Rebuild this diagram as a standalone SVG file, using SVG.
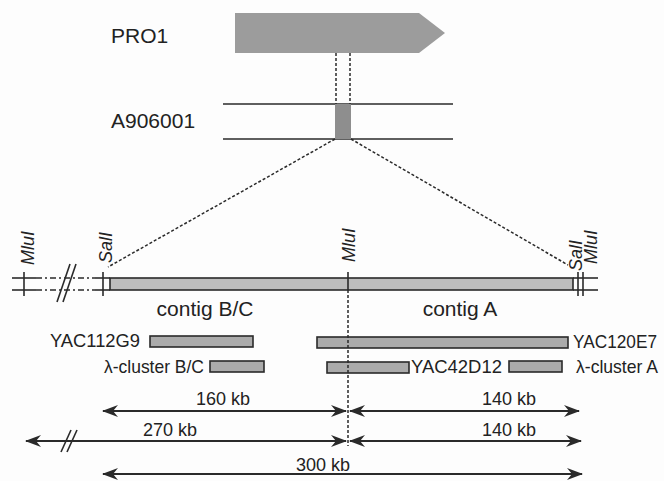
<svg xmlns="http://www.w3.org/2000/svg" width="664" height="481" viewBox="0 0 664 481">
<defs>
<style>
text{font-family:"Liberation Sans",Arial,sans-serif;fill:#222}
.lbl{font-size:21px}
.sm{font-size:19px}
.kb{font-size:18px}
.re{font-size:18px;font-style:italic}
.ln{stroke:#2a2a2a;stroke-width:1.6;fill:none}
.dash{stroke:#2a2a2a;stroke-width:1.5;stroke-dasharray:3 2;fill:none}
.clone{fill:#ababab;stroke:#2a2a2a;stroke-width:1.6}
.arr{stroke:#2a2a2a;stroke-width:1.8;fill:none;marker-end:url(#ah);marker-start:url(#ah)}
</style>
<marker id="ah" viewBox="0 0 16 12" refX="15" refY="6" markerWidth="16" markerHeight="12" markerUnits="userSpaceOnUse" orient="auto-start-reverse">
<path d="M16,6 L0,0 L5,6 L0,12 Z" fill="#2a2a2a"/>
</marker>
</defs>
<rect width="664" height="481" fill="#fdfdfd"/>

<g id="pro1">
<path d="M235,13 H419 L445,33 L419,53 H235 Z" fill="#9c9c9c"/>
<text class="lbl" x="111" y="43">PRO1</text>
</g>

<g id="a906001">
<line class="ln" x1="223" y1="104" x2="453" y2="104"/>
<line class="ln" x1="223" y1="139" x2="453" y2="139"/>
<rect x="335" y="104" width="16" height="35" fill="#8e8e8e"/>
<text class="lbl" x="111" y="128">A906001</text>
</g>

<g id="chromosome">
<line class="ln" x1="12" y1="278" x2="36" y2="278"/>
<line class="ln" x1="12" y1="290" x2="36" y2="290"/>
<line class="ln" x1="36" y1="278" x2="95" y2="278" stroke-dasharray="6 3 2 3"/>
<line class="ln" x1="36" y1="290" x2="95" y2="290" stroke-dasharray="6 3 2 3"/>
<line class="ln" x1="95" y1="278" x2="110" y2="278"/>
<line class="ln" x1="95" y1="290" x2="110" y2="290"/>
<line class="ln" x1="57" y1="302" x2="70" y2="264"/>
<line class="ln" x1="63" y1="302" x2="76" y2="264"/>
<rect x="110" y="278" width="463" height="12" fill="#bdbdbd" stroke="#2a2a2a" stroke-width="1.6"/>
<line class="ln" x1="573" y1="278" x2="598" y2="278"/>
<line class="ln" x1="573" y1="290" x2="598" y2="290"/>
<line class="ln" x1="24" y1="272" x2="24" y2="296"/>
<line class="ln" x1="103" y1="272" x2="103" y2="296"/>
<line class="ln" x1="348" y1="272" x2="348" y2="290"/>
<line class="ln" x1="578" y1="272" x2="578" y2="296"/>
<line class="ln" x1="583" y1="272" x2="583" y2="296"/>
<text class="re" transform="translate(34,265) rotate(-90)">MluI</text>
<text class="re" transform="translate(112,263) rotate(-90)">SalI</text>
<text class="re" transform="translate(355,262) rotate(-90)">MluI</text>
<text class="re" transform="translate(582,271) rotate(-90)">SalI</text>
<text class="re" transform="translate(597,264) rotate(-90)">MluI</text>
<text class="lbl" x="205" y="316" text-anchor="middle">contig B/C</text>
<text class="lbl" x="460" y="316" text-anchor="middle">contig A</text>
</g>

<g id="yac112g9">
<rect class="clone" x="150" y="336" width="103" height="11"/>
<text class="sm" x="50" y="347" textLength="90" lengthAdjust="spacingAndGlyphs">YAC112G9</text>
</g>
<g id="yac120e7">
<rect class="clone" x="317" y="337" width="251" height="11"/>
<text x="573" y="348" font-size="18" textLength="84" lengthAdjust="spacingAndGlyphs">YAC120E7</text>
</g>
<g id="lambda-bc">
<rect class="clone" x="210" y="361" width="54" height="11"/>
<text class="sm" x="104" y="373" textLength="100" lengthAdjust="spacingAndGlyphs">λ-cluster B/C</text>
</g>
<g id="yac42d12">
<rect class="clone" x="327" y="362" width="82" height="11"/>
<text class="sm" x="411" y="373" textLength="91" lengthAdjust="spacingAndGlyphs">YAC42D12</text>
</g>
<g id="lambda-a">
<rect class="clone" x="509" y="361" width="53" height="11" fill="#8f8f8f"/>
<text class="sm" x="576" y="373" textLength="82" lengthAdjust="spacingAndGlyphs">λ-cluster A</text>
</g>

<g id="connectors">
<line class="dash" x1="336" y1="53" x2="336" y2="104"/>
<line class="dash" x1="350" y1="53" x2="350" y2="104"/>
<line class="dash" x1="335" y1="139" x2="108" y2="267"/>
<line class="dash" x1="351" y1="139" x2="568" y2="265"/>
<line class="dash" x1="348" y1="290" x2="348" y2="446"/>
<line class="arr" x1="103" y1="411" x2="346" y2="411"/>
<line class="arr" x1="350" y1="411" x2="579" y2="411"/>
<line class="arr" x1="26" y1="441" x2="346" y2="441"/>
<line class="arr" x1="350" y1="441" x2="581" y2="441"/>
<line class="ln" x1="61" y1="452" x2="71" y2="430"/>
<line class="ln" x1="67" y1="452" x2="77" y2="430"/>
<line class="arr" x1="103" y1="474" x2="582" y2="474"/>
<text class="kb" x="223" y="405" text-anchor="middle">160 kb</text>
<text class="kb" x="509" y="405" text-anchor="middle">140 kb</text>
<text class="kb" x="170" y="436" text-anchor="middle">270 kb</text>
<text class="kb" x="509" y="436" text-anchor="middle">140 kb</text>
<text class="kb" x="323" y="471" text-anchor="middle">300 kb</text>
</g>
</svg>
